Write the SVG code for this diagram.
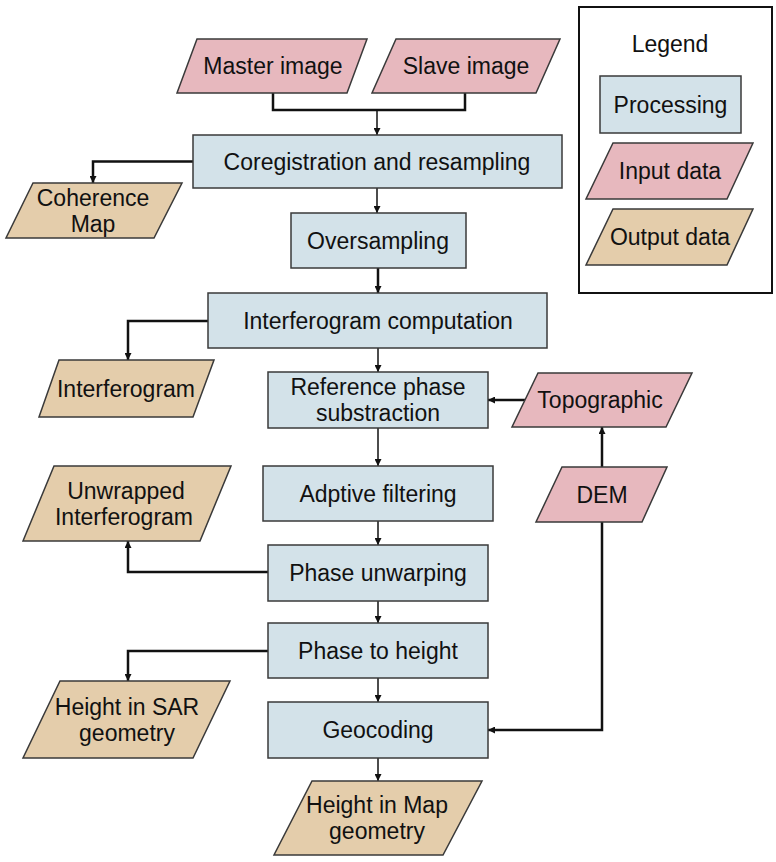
<svg xmlns="http://www.w3.org/2000/svg" width="776" height="862" viewBox="0 0 776 862">
  <style>
    .proc { fill: #d3e2e9; stroke: #3a3a3a; stroke-width: 1.5; }
    .inp  { fill: #e7b8be; stroke: #3a3a3a; stroke-width: 1.5; }
    .out  { fill: #e4cdab; stroke: #3a3a3a; stroke-width: 1.5; }
    .legend-box { fill: #ffffff; stroke: #111111; stroke-width: 2; }
    text { font-family: "Liberation Sans", Arial, sans-serif; font-size: 23px; fill: #111111; text-anchor: middle; }
    .link { fill: none; stroke: #111111; stroke-width: 2.5; }
    .thin { fill: none; stroke: #111111; stroke-width: 1.5; }
  </style>
  <defs>
    <marker id="arrow" viewBox="0 0 10 10" refX="10" refY="5" markerWidth="7" markerHeight="7" markerUnits="userSpaceOnUse" orient="auto">
      <path d="M0,0 L10,5 L0,10 z" fill="#111111"/>
    </marker>
  </defs>

  <rect width="776" height="862" fill="#ffffff"/>

  <!-- connectors -->
  <g id="connectors">
    <path class="link" d="M273,93 V110 H465 V93"/>
    <path class="thin" d="M377,110 V135" marker-end="url(#arrow)"/>
    <path class="link" d="M193,161.5 H93 V183" marker-end="url(#arrow)"/>
    <path class="thin" d="M377,188 V213" marker-end="url(#arrow)"/>
    <path class="link" d="M378,268 V293" marker-end="url(#arrow)"/>
    <path class="link" d="M208,321 H128 V360" marker-end="url(#arrow)"/>
    <path class="thin" d="M378,348 V372" marker-end="url(#arrow)"/>
    <path class="link" d="M525,400 H488" marker-end="url(#arrow)"/>
    <path class="thin" d="M378,428 V466" marker-end="url(#arrow)"/>
    <path class="thin" d="M378,521 V545" marker-end="url(#arrow)"/>
    <path class="link" d="M268,572 H128 V541" marker-end="url(#arrow)"/>
    <path class="thin" d="M378,601 V623" marker-end="url(#arrow)"/>
    <path class="link" d="M268,651 H128 V681" marker-end="url(#arrow)"/>
    <path class="thin" d="M378,678 V702" marker-end="url(#arrow)"/>
    <path class="thin" d="M378,758 V781" marker-end="url(#arrow)"/>
    <path class="link" d="M602,467 V427" marker-end="url(#arrow)"/>
    <path class="link" d="M602,522 V730 H488" marker-end="url(#arrow)"/>
  </g>

  <!-- inputs -->
  <g id="master-image">
    <polygon class="inp" points="197,39 367,39 347,93 177,93"/>
    <text x="273" y="74">Master image</text>
  </g>
  <g id="slave-image">
    <polygon class="inp" points="396,39 560,39 536,93 372,93"/>
    <text x="466" y="74">Slave image</text>
  </g>

  <!-- processing chain -->
  <g id="coregistration">
    <rect class="proc" x="193" y="135" width="369" height="53"/>
    <text x="377" y="169.5">Coregistration and resampling</text>
  </g>
  <g id="coherence-map">
    <polygon class="out" points="33,183 182,183 154,238 6,238"/>
    <text x="93" y="205.5">Coherence</text>
    <text x="93" y="231.5">Map</text>
  </g>
  <g id="oversampling">
    <rect class="proc" x="291" y="213" width="175" height="55"/>
    <text x="378" y="248.5">Oversampling</text>
  </g>
  <g id="interferogram-computation">
    <rect class="proc" x="208" y="293" width="339" height="55"/>
    <text x="378" y="328.5">Interferogram computation</text>
  </g>
  <g id="interferogram">
    <polygon class="out" points="59,360 214,360 193,417 39,417"/>
    <text x="126" y="396.5">Interferogram</text>
  </g>
  <g id="reference-phase">
    <rect class="proc" x="268" y="372" width="220" height="56"/>
    <text x="378" y="395">Reference phase</text>
    <text x="378" y="421">substraction</text>
  </g>
  <g id="topographic">
    <polygon class="inp" points="538,373 692,373 666,427 512,427"/>
    <text x="600" y="408">Topographic</text>
  </g>
  <g id="adaptive-filtering">
    <rect class="proc" x="263" y="466" width="230" height="55"/>
    <text x="378" y="501.5">Adptive filtering</text>
  </g>
  <g id="unwrapped-interferogram">
    <polygon class="out" points="54,466 231,466 200,541 23,541"/>
    <text x="126" y="498.5">Unwrapped</text>
    <text x="124" y="524.5">Interferogram</text>
  </g>
  <g id="dem">
    <polygon class="inp" points="562,467 667,467 642,522 536,522"/>
    <text x="602" y="502.5">DEM</text>
  </g>
  <g id="phase-unwrapping">
    <rect class="proc" x="268" y="545" width="220" height="56"/>
    <text x="378" y="581">Phase unwarping</text>
  </g>
  <g id="phase-to-height">
    <rect class="proc" x="268" y="623" width="220" height="55"/>
    <text x="378" y="658.5">Phase to height</text>
  </g>
  <g id="height-sar">
    <polygon class="out" points="60,681 230,681 193,758 23,758"/>
    <text x="127" y="714.5">Height in SAR</text>
    <text x="127" y="740.5">geometry</text>
  </g>
  <g id="geocoding">
    <rect class="proc" x="268" y="702" width="220" height="56"/>
    <text x="378" y="738">Geocoding</text>
  </g>
  <g id="height-map">
    <polygon class="out" points="312,781 482,781 443,855 274,855"/>
    <text x="377" y="813">Height in Map</text>
    <text x="377" y="839">geometry</text>
  </g>

  <!-- legend -->
  <g id="legend">
    <rect class="legend-box" x="579" y="7" width="193" height="286"/>
    <text x="670" y="52">Legend</text>
    <rect class="proc" x="600" y="76" width="141" height="57"/>
    <text x="670.5" y="112.5">Processing</text>
    <polygon class="inp" points="613,143 753,143 727,199 586,199"/>
    <text x="670" y="179">Input data</text>
    <polygon class="out" points="613,209 753,209 727,265 586,265"/>
    <text x="670" y="245">Output data</text>
  </g>
</svg>
